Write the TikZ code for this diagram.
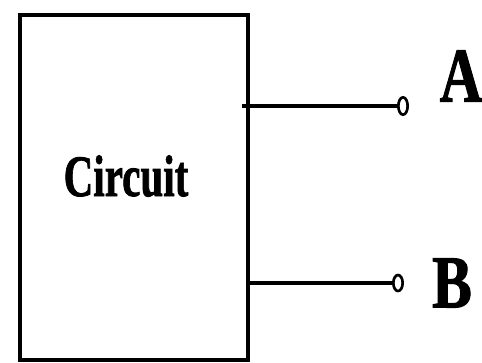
\documentclass[tikz,border=0pt]{standalone}
\usepackage{fontspec}
\setmainfont[BoldFeatures={FakeBold=1.5}]{Liberation Serif}
\usetikzlibrary{shapes.geometric}
\begin{document}
\begin{tikzpicture}[x=0.75pt,y=-0.75pt,
  wire/.style={line width=2.6pt},
  term/.style={ellipse,draw,line width=2pt,minimum width=7pt,minimum height=13pt,inner sep=0pt},
  lbl/.style={font=\bfseries,inner sep=0pt}]
\useasboundingbox (0,0) rectangle (482,362);
\draw[line width=2.6pt] (20,15) rectangle (248,360);
\node[inner sep=0pt] (box) at (134,187.5) {};
\node[lbl,font=\bfseries\fontsize{44}{44}\selectfont] (ctext) at (126,176) {\scalebox{0.7}[1]{Circuit}};
\node[term] (tA) at (403,106) {};
\node[term,minimum height=12pt] (tB) at (398,283) {};
\coordinate (sA) at (242,106);
\coordinate (sB) at (248,283);
\draw[wire] (sA) -- (tA.west);
\draw[wire] (sB) -- (tB.west);
\node[lbl,font=\bfseries\fontsize{58}{58}\selectfont] (lA) at (461,76) {\scalebox{0.76}[1]{A}};
\node[lbl,font=\bfseries\fontsize{56}{56}\selectfont] (lB) at (452,283) {\scalebox{0.8}[1]{B}};
\end{tikzpicture}
\end{document}
